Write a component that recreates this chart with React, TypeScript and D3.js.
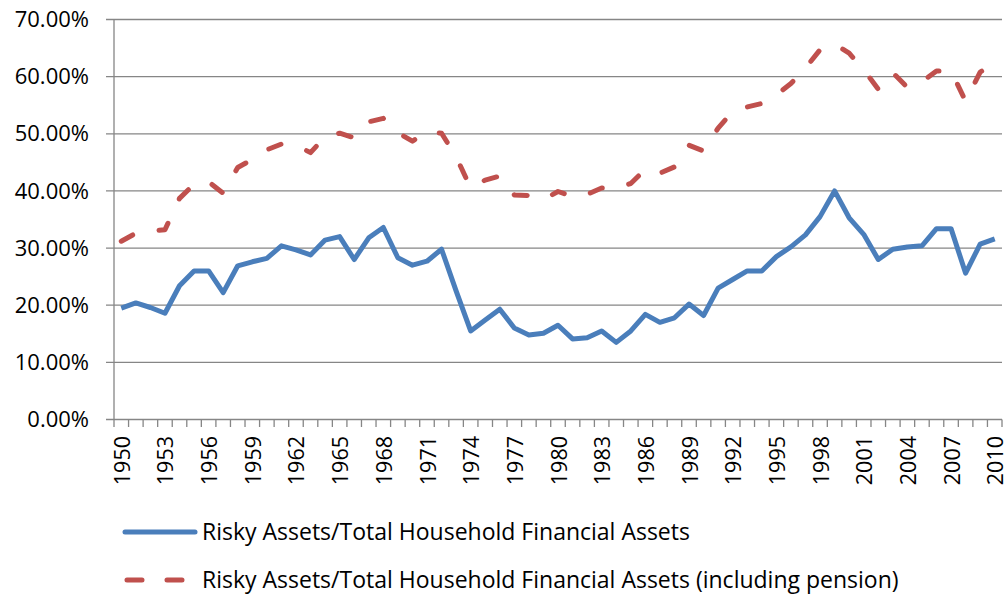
import * as d3 from "d3";

// years on the category axis
const years = d3.range(1950, 2011);
const labelYears = years.filter((y) => (y - 1950) % 3 === 0);
const yTicks = [0, 0.1, 0.2, 0.3, 0.4, 0.5, 0.6, 0.7];

const seriesNames = [
  "Risky Assets/Total Household Financial Assets",
  "Risky Assets/Total Household Financial Assets (including pension)",
];

// percent values
const riskyShare = [
  19.5, 20.4, 19.6, 18.6, 23.4, 26.0, 26.0, 22.2, 26.9, 27.6,
  28.2, 30.4, 29.7, 28.8, 31.4, 32.0, 28.0, 31.8, 33.6, 28.3,
  27.0, 27.7, 29.8, 22.5, 15.5, 17.4, 19.3, 16.0, 14.8, 15.1,
  16.5, 14.1, 14.3, 15.5, 13.5, 15.5, 18.4, 17.0, 17.8, 20.2,
  18.2, 23.0, 24.5, 26.0, 26.0, 28.5, 30.2, 32.3, 35.5, 40.0,
  35.3, 32.4, 28.0, 29.8, 30.2, 30.4, 33.4, 33.4, 25.6, 30.7,
  31.6,
];
const riskySharePension = [
  31.2, 32.6, 33.0, 33.2, 38.7, 41.2, 41.6, 39.6, 44.1, 45.5,
  47.2, 48.2, 48.0, 46.7, 49.5, 50.1, 49.3, 52.1, 52.7, 50.2,
  48.7, 50.4, 50.1, 46.0, 40.5, 41.9, 42.6, 39.3, 39.2, 38.5,
  39.9, 39.0, 39.4, 40.5, 40.5, 41.3, 43.8, 43.1, 44.2, 48.0,
  47.0, 51.0, 53.9, 54.7, 55.3, 56.8, 58.8, 61.5, 64.7, 65.7,
  64.1, 61.2, 57.8, 60.7, 58.1, 59.1, 61.0, 61.0, 55.7, 60.8,
  62.3,
];

const BLUE = "#4A7EBB";
const RED = "#C0504D";
const GRID = "#868686";
const FONT = "'Open Sans', sans-serif";

export default function App() {
  const width = 1008;
  const height = 597;
  const left = 114;
  const right = 1002;
  const top = 19.5;
  const bottom = 419.5;

  const x = d3.scaleBand<number>().domain(years).range([left, right]);
  const y = d3.scaleLinear().domain([0, 0.7]).range([bottom, top]);
  const cx = (yr: number) => x(yr)! + x.bandwidth() / 2;

  const line = d3
    .line<number>()
    .x((_, i) => cx(years[i]))
    .y((v) => y(v / 100));

  const pct = d3.format(".2%");
  const boundaries = [...years.map((yr) => x(yr)!), right];

  return (
    <svg
      width={width}
      height={height}
      style={{ position: "absolute", left: 0, top: 0, background: "#fff" }}
    >
      {/* gridlines and y labels */}
      {yTicks.map((t) => (
        <g key={t}>
          <line x1={left - 8} x2={right} y1={y(t)} y2={y(t)} stroke={GRID} strokeWidth={1.3} />
          <text
            x={89}
            y={y(t)}
            dy="0.35em"
            textAnchor="end"
            fontFamily={FONT}
            fontSize={22}
            fill="#000"
          >
            {pct(t)}
          </text>
        </g>
      ))}
      <line x1={left} x2={left} y1={top} y2={bottom} stroke={GRID} strokeWidth={1.3} />

      {/* category ticks */}
      {boundaries.map((bx, i) => (
        <line key={i} x1={bx} x2={bx} y1={bottom} y2={bottom + 7.5} stroke={GRID} strokeWidth={1.3} />
      ))}
      {labelYears.map((yr) => (
        <text
          key={yr}
          transform={`translate(${cx(yr) + 1},436) rotate(-90)`}
          textAnchor="end"
          dy="0.35em"
          fontFamily={FONT}
          fontSize={21.5}
          fill="#000"
        >
          {yr}
        </text>
      ))}

      {/* series */}
      <path
        d={line(riskySharePension) ?? ""}
        fill="none"
        stroke={RED}
        strokeWidth={5}
        strokeDasharray="13 27"
        strokeLinecap="round"
        strokeLinejoin="round"
      />
      <path
        d={line(riskyShare) ?? ""}
        fill="none"
        stroke={BLUE}
        strokeWidth={5}
        strokeLinejoin="round"
      />

      {/* legend */}
      <line x1={125} x2={195} y1={532} y2={532} stroke={BLUE} strokeWidth={5} strokeLinecap="round" />
      <text x={202} y={532} dy="0.35em" fontFamily={FONT} fontSize={23} fill="#000">
        {seriesNames[0]}
      </text>
      <line
        x1={127}
        x2={195}
        y1={580}
        y2={580}
        stroke={RED}
        strokeWidth={5}
        strokeDasharray="15 25"
        strokeLinecap="round"
      />
      <text x={202} y={580} dy="0.35em" fontFamily={FONT} fontSize={23} fill="#000">
        {seriesNames[1]}
      </text>
    </svg>
  );
}
